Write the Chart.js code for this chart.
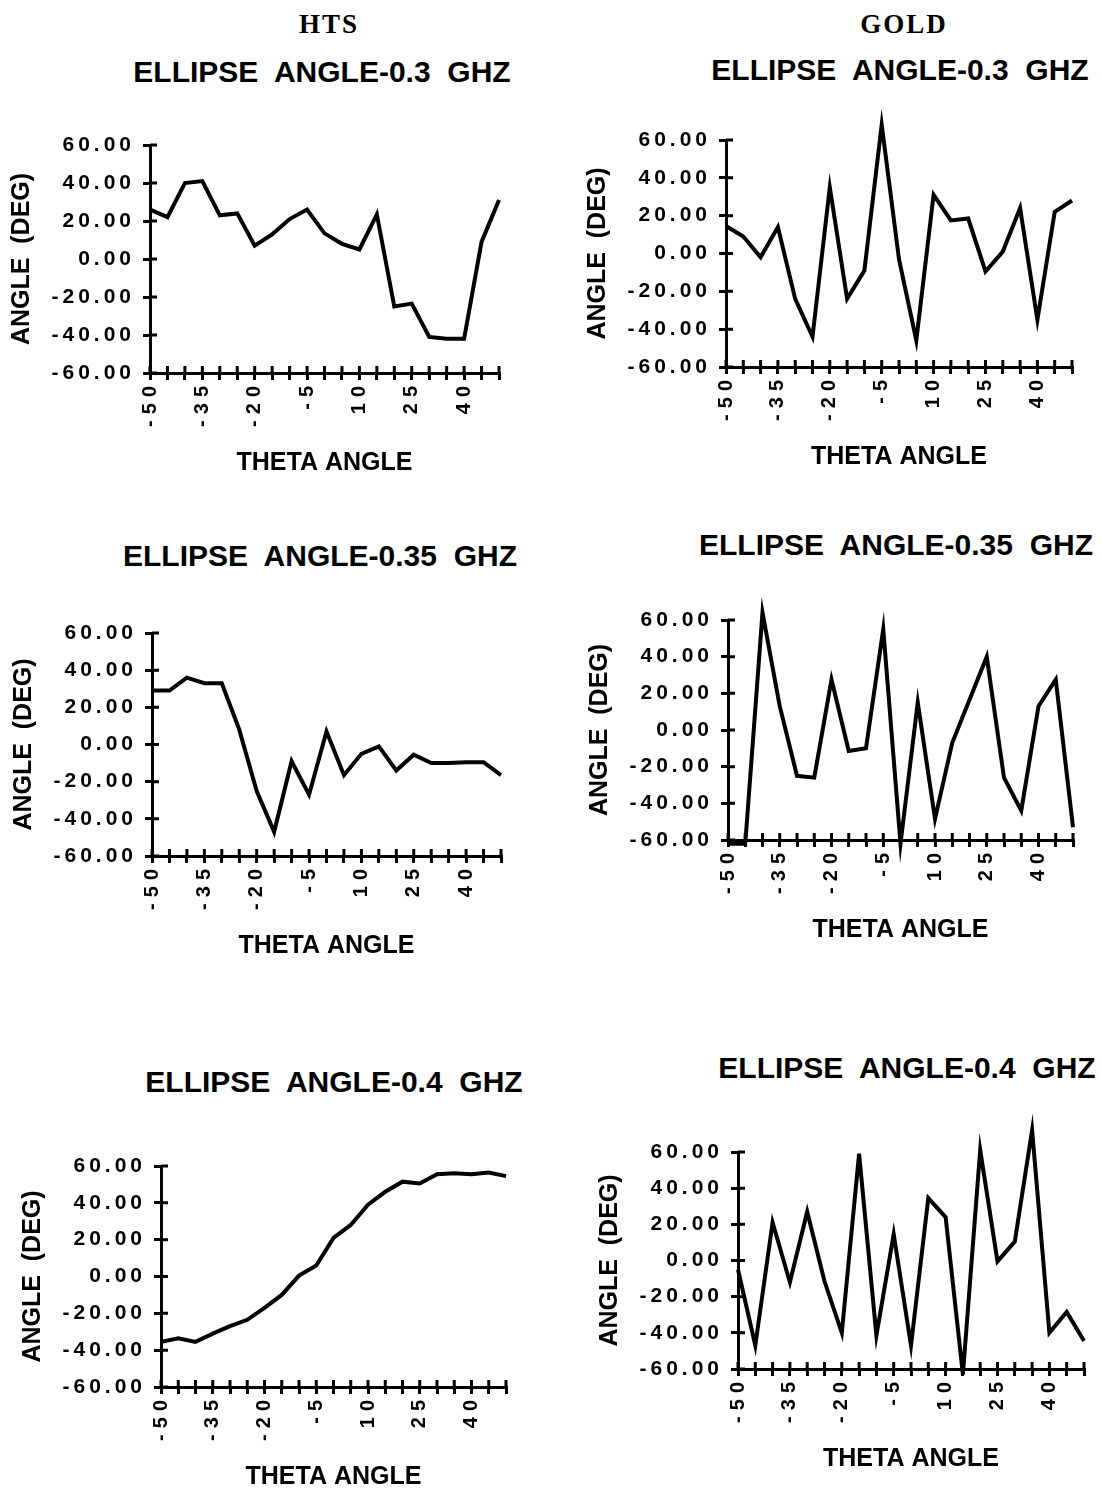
<!DOCTYPE html>
<html>
<head>
<meta charset="utf-8">
<script src="https://cdn.jsdelivr.net/npm/chart.js@4.4.1/dist/chart.umd.min.js"></script>
<style>
  body { margin: 0; background: #fff; width: 1102px; height: 1492px; position: relative; overflow: hidden; }
  canvas { position: absolute; }
  .head, .ttl { position: absolute; white-space: pre; transform: translate(-50%, -50%); line-height: 1; }
  .head { font: bold 27px 'Liberation Serif', 'Times New Roman', serif; letter-spacing: 2px; }
  .ttl { font: bold 30px 'Liberation Sans', Arial, sans-serif; }
</style>
</head>
<body>
<div class="head" style="left:329px;top:24px">HTS</div>
<div class="head" style="left:904px;top:24px">GOLD</div>
<div class="ttl" style="left:322px;top:72px">ELLIPSE  ANGLE-0.3  GHZ</div>
<div class="ttl" style="left:900px;top:70px">ELLIPSE  ANGLE-0.3  GHZ</div>
<div class="ttl" style="left:320px;top:556px">ELLIPSE  ANGLE-0.35  GHZ</div>
<div class="ttl" style="left:896px;top:545px">ELLIPSE  ANGLE-0.35  GHZ</div>
<div class="ttl" style="left:334px;top:1082px">ELLIPSE  ANGLE-0.4  GHZ</div>
<div class="ttl" style="left:907px;top:1068px">ELLIPSE  ANGLE-0.4  GHZ</div>
<canvas id="c1"></canvas>
<canvas id="c2"></canvas>
<canvas id="c3"></canvas>
<canvas id="c4"></canvas>
<canvas id="c5"></canvas>
<canvas id="c6"></canvas>
<script>
// theta angle (deg), one point per tick
const thetas = [-50,-45,-40,-35,-30,-25,-20,-15,-10,-5,0,5,10,15,20,25,30,35,40,45,50];

// ellipse angle (deg)
const hts03  = [26,22,40,41,23,24,7,13,21,26,13.5,8,5,23.5,-25,-23.5,-41,-42,-42,9,31];
const gold03 = [14.5,9,-2,14,-24,-44,35,-24,-9,68,-3,-46,31,17.5,18.5,-9.5,1,24,-35,22,28];
const hts035  = [29,29,36,33,33,8,-25,-47,-9,-27,7,-16.5,-5,-1,-14,-5.5,-10,-10,-9.5,-9.5,-16.5];
const gold035 = [-62,-62,64,13,-25,-26,27.5,-11.5,-10,55,-62,15,-48.5,-7,16.5,40,-26,-44,13,27.5,-53];
const hts04  = [-35.5,-33.5,-35.5,-31,-27,-23.5,-17,-10,0.5,6,21,28,39,46,51.5,50.5,55.5,56,55.5,56.5,54.5];
const gold04 = [-5,-47,21,-12,27,-11.5,-40,59,-41.5,14.5,-47,34.5,24,-63,61,-0.5,10.5,72,-40,-28.5,-44.5];

Chart.defaults.color = '#000';
Chart.defaults.font.family = "'Liberation Sans', Arial, sans-serif";
Chart.defaults.font.weight = 'bold';

const Y_W = 150;    // y axis box width
const X_H = 105;    // x axis box height
const PAD_T = 40;
const PAD_R = 15;
const PAD_B = 5;

// tick labels in the original are letter-spaced
function spaced(scale, px) {
    if (scale._spaced) return;
    scale._spaced = true;
    const draw = scale.drawLabels;
    scale.drawLabels = function (area) {
        this.ctx.save();
        this.ctx.letterSpacing = px + 'px';
        draw.call(this, area);
        this.ctx.restore();
    };
}

// tick marks cross the axis: the grid draws the outer half, this the inner half
const crossTicks = {
    id: 'crossTicks',
    beforeDatasetsDraw(chart) {
        const {ctx, chartArea: a, scales: {x, y}} = chart;
        ctx.save();
        ctx.strokeStyle = '#000';
        ctx.lineWidth = 3;
        ctx.beginPath();
        x.ticks.forEach((t, i) => {
            const px = x.getPixelForTick(i);
            ctx.moveTo(px, a.bottom);
            ctx.lineTo(px, a.bottom - 7);
        });
        y.ticks.forEach((t, i) => {
            const py = y.getPixelForTick(i);
            ctx.moveTo(a.left, py);
            ctx.lineTo(a.left + 7, py);
        });
        ctx.stroke();
        ctx.restore();
    }
};

function makePanel(id, values, area) {
    const [l, t, r, b] = area;
    const cv = document.getElementById(id);
    cv.width = Y_W + (r - l) + PAD_R;
    cv.height = PAD_T + (b - t) + X_H + PAD_B;
    cv.style.left = (l - Y_W) + 'px';
    cv.style.top = (t - PAD_T) + 'px';

    return new Chart(cv, {
        type: 'line',
        data: {
            labels: thetas,
            datasets: [{
                data: values,
                borderColor: '#000',
                borderWidth: 4,
                pointRadius: 0,
                tension: 0,
                fill: false,
                clip: false
            }]
        },
        options: {
            responsive: false,
            animation: false,
            layout: { padding: { left: 0, right: PAD_R, top: PAD_T, bottom: PAD_B } },
            plugins: {
                legend: { display: false },
                tooltip: { enabled: false }
            },
            scales: {
                x: {
                    type: 'category',
                    offset: false,
                    grid: { drawOnChartArea: false, color: '#000', lineWidth: 3, tickLength: 7 },
                    border: { color: '#000', width: 3 },
                    ticks: {
                        autoSkip: false,
                        minRotation: 90,
                        maxRotation: 90,
                        padding: 0,
                        font: { size: 20 },
                        callback: (v, i) => i % 3 === 0 ? String(thetas[i]) : ''
                    },
                    title: { display: true, text: 'THETA ANGLE', font: { size: 25 }, padding: { top: 0, bottom: 0 } },
                    afterFit: s => {
                        s.height = X_H;
                        s.paddingLeft = 0;
                        s.paddingRight = 0;
                        spaced(s, 6);
                    }
                },
                y: {
                    min: -60,
                    max: 60,
                    grid: { drawOnChartArea: false, color: '#000', lineWidth: 3, tickLength: 7 },
                    border: { color: '#000', width: 3 },
                    ticks: { stepSize: 20, padding: 8, font: { size: 21 }, callback: v => v.toFixed(2) },
                    title: { display: true, text: 'ANGLE  (DEG)', font: { size: 25 }, padding: { top: 7, bottom: 0 } },
                    afterFit: s => { s.width = Y_W; spaced(s, 4); }
                }
            }
        },
        plugins: [crossTicks]
    });
}

makePanel('c1', hts03, [150, 145, 499, 373]);
makePanel('c2', gold03, [726, 140, 1072, 367]);
makePanel('c3', hts035, [152, 633, 501, 856]);
makePanel('c4', gold035, [728, 620, 1073, 840]);
makePanel('c5', hts04, [161, 1166, 506, 1387]);
makePanel('c6', gold04, [738, 1152, 1084, 1369]);
</script>
</body>
</html>
